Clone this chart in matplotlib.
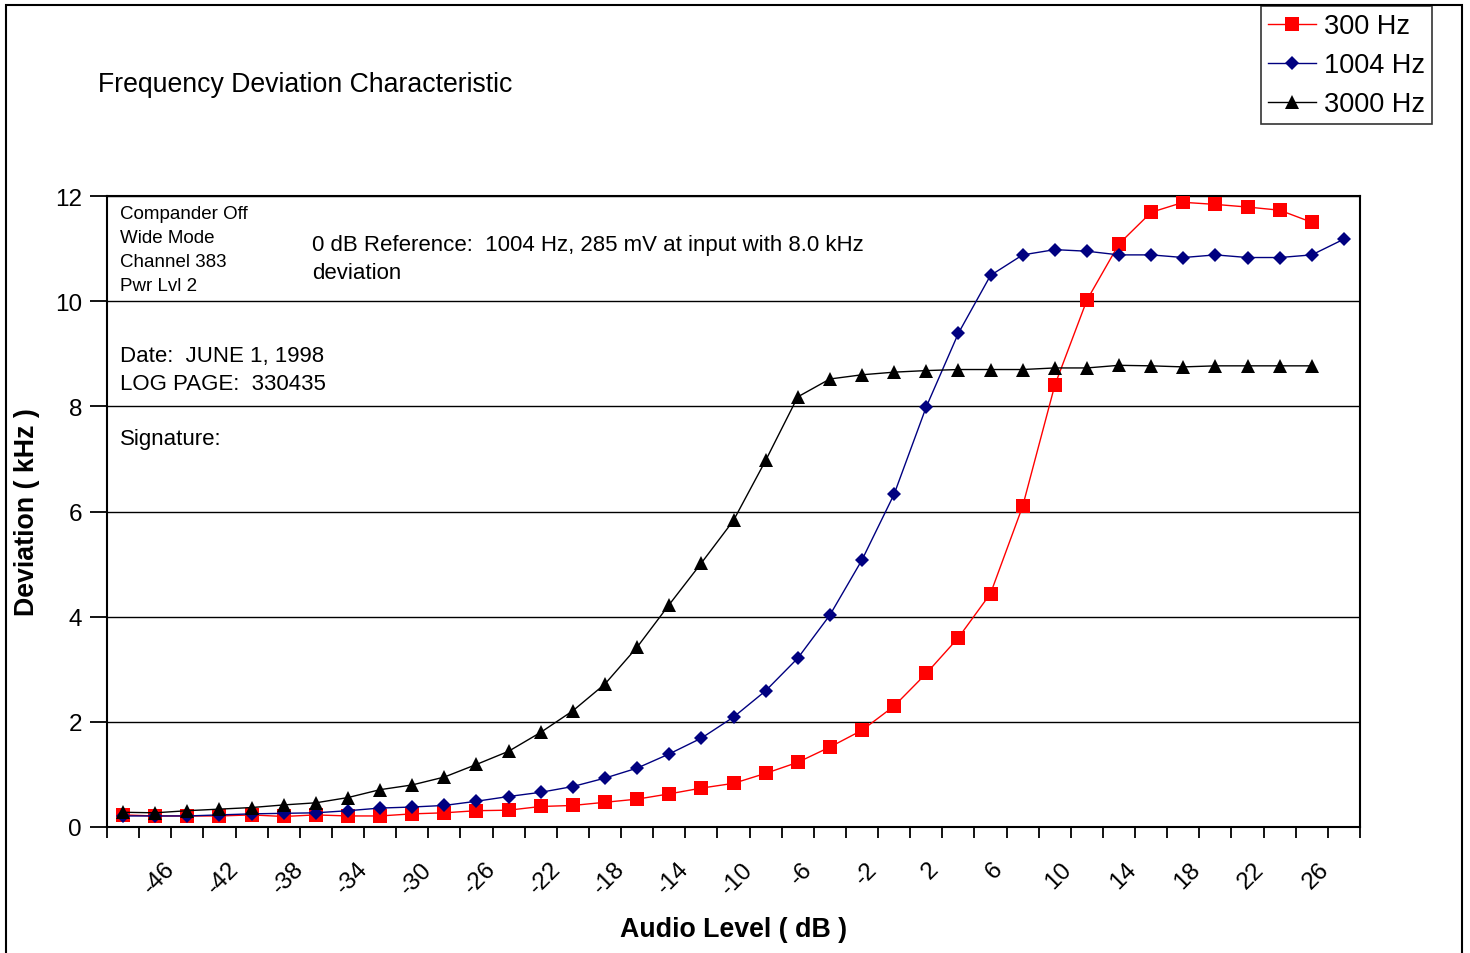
#!/usr/bin/env python3
"""Frequency deviation vs audio level for three test tones.

Writes out.png (1470x954).
"""

import matplotlib

matplotlib.use("Agg")

import matplotlib.pyplot as plt
from matplotlib.patches import Rectangle
from matplotlib.transforms import ScaledTranslation

# ---------------------------------------------------------------------------
# Data
# ---------------------------------------------------------------------------

audio_level_db = list(range(-48, 30, 2))  # -48 .. 28

dev_300hz = [
    0.23, 0.21, 0.21, 0.21, 0.23, 0.20, 0.23, 0.21, 0.21, 0.25,
    0.27, 0.31, 0.32, 0.39, 0.41, 0.47, 0.53, 0.63, 0.74, 0.83,
    1.02, 1.23, 1.52, 1.84, 2.30, 2.92, 3.60, 4.44, 6.10, 8.40,
    10.02, 11.09, 11.69, 11.88, 11.84, 11.79, 11.73, 11.50,
]
dev_1004hz = [
    0.21, 0.21, 0.21, 0.23, 0.25, 0.26, 0.27, 0.31, 0.36, 0.38,
    0.41, 0.49, 0.58, 0.66, 0.77, 0.93, 1.12, 1.39, 1.69, 2.09,
    2.59, 3.21, 4.03, 5.08, 6.33, 7.99, 9.39, 10.49, 10.88, 10.98,
    10.95, 10.88, 10.88, 10.83, 10.88, 10.83, 10.83, 10.88, 11.18,
]
dev_3000hz = [
    0.28, 0.27, 0.31, 0.34, 0.37, 0.42, 0.46, 0.56, 0.71, 0.80,
    0.95, 1.19, 1.44, 1.80, 2.21, 2.72, 3.42, 4.23, 5.02, 5.83,
    6.97, 8.18, 8.52, 8.60, 8.65, 8.68, 8.70, 8.70, 8.70, 8.73,
    8.73, 8.78, 8.77, 8.75, 8.77, 8.77, 8.77, 8.77,
]

x_tick_labels = list(range(-46, 28, 4))
y_ticks = list(range(0, 13, 2))

# ---------------------------------------------------------------------------
# Style
# ---------------------------------------------------------------------------

W, H = 1470, 954
DPI = 100
FONT = ["Liberation Sans", "DejaVu Sans"]

plt.rcParams["font.family"] = FONT


def px(x, y):
    """Pixel position (from top-left) -> figure fraction."""
    return x / W, 1 - y / H


def main():
    fig = plt.figure(figsize=(W / DPI, H / DPI), dpi=DPI)
    fig.patch.set_facecolor("white")

    left, top = px(107, 197)
    right, bottom = px(1360, 828)
    ax = fig.add_axes([left, bottom, right - left, top - bottom])

    # outer frame round the whole chart
    fig.patches.append(Rectangle(
        px(6, 970), (1462 - 6) / W, (970 - 6) / H,
        transform=fig.transFigure, fill=False, edgecolor="black",
        linewidth=1.5, zorder=0,
    ))

    series = [
        ("300 Hz", audio_level_db[:len(dev_300hz)], dev_300hz, "#FF0000", "s", 10),
        ("1004 Hz", audio_level_db[:len(dev_1004hz)], dev_1004hz, "#000080", "D", 7.5),
        ("3000 Hz", audio_level_db[:len(dev_3000hz)], dev_3000hz, "black", "^", 10),
    ]
    for label, xs, ys, color, marker, ms in series:
        ax.plot(xs, ys, color=color, linewidth=1.0, marker=marker,
                markersize=ms, markeredgewidth=0, label=label, zorder=3)

    ax.set_xlim(-49, 29)
    ax.set_ylim(0, 12)

    # y axis
    ax.set_yticks(y_ticks)
    ax.set_yticklabels([str(v) for v in y_ticks])
    ax.tick_params(axis="y", direction="out", length=12, width=1.3,
                   labelsize=17.5, pad=6, colors="black")
    ax.yaxis.grid(True, color="black", linewidth=1.0)
    ax.set_axisbelow(True)

    # x axis: tick marks on category edges, labels on every other centre
    ax.set_xticks(list(range(-49, 30, 2)))
    ax.set_xticklabels([])
    ax.tick_params(axis="x", which="major", direction="out", length=8,
                   width=1.3)
    ax.set_xticks(x_tick_labels, minor=True)
    ax.set_xticklabels([str(v) for v in x_tick_labels], minor=True,
                       rotation=45, ha="center", va="top")
    ax.tick_params(axis="x", which="minor", length=0, labelsize=17.5, pad=22)
    shift = ScaledTranslation(4 / DPI, 0, fig.dpi_scale_trans)
    for lab in ax.get_xticklabels(minor=True):
        lab.set_transform(lab.get_transform() + shift)

    for spine in ax.spines.values():
        spine.set_color("black")
        spine.set_linewidth(1.5)

    # axis titles
    fig.text(*px(27, 512), "Deviation ( kHz )", rotation=90, ha="center",
             va="center", fontsize=19.3, fontweight="bold")
    fig.text(*px(734, 930), "Audio Level ( dB )", ha="center", va="center",
             fontsize=19.3, fontweight="bold")

    # chart title and notes
    fig.text(*px(98, 91.5), "Frequency Deviation Characteristic",
             ha="left", va="baseline", fontsize=19.2)

    small = 13.5
    for i, line in enumerate(["Compander Off", "Wide Mode", "Channel 383", "Pwr Lvl 2"]):
        fig.text(*px(120, 219 + 24 * i), line, ha="left", va="baseline",
                 fontsize=small)

    mid = 16
    fig.text(*px(312, 251), "0 dB Reference:  1004 Hz, 285 mV at input with 8.0 kHz",
             ha="left", va="baseline", fontsize=mid)
    fig.text(*px(312, 279), "deviation", ha="left", va="baseline", fontsize=mid)
    fig.text(*px(120, 362), "Date:  JUNE 1, 1998", ha="left", va="baseline",
             fontsize=mid)
    fig.text(*px(120, 390), "LOG PAGE:  330435", ha="left", va="baseline",
             fontsize=mid)
    fig.text(*px(120, 445), "Signature:", ha="left", va="baseline",
             fontsize=mid)

    # legend, top right corner
    leg = fig.legend(loc="upper right", bbox_to_anchor=px(1432, 7),
                     fontsize=19.5, frameon=True, fancybox=False,
                     borderaxespad=0, handlelength=1.75, handletextpad=0.3,
                     labelspacing=0.48, borderpad=0.26)
    leg.get_frame().set_edgecolor("black")
    leg.get_frame().set_linewidth(1.2)

    fig.savefig("out.png", dpi=DPI, facecolor="white")
    plt.close(fig)


if __name__ == "__main__":
    main()
